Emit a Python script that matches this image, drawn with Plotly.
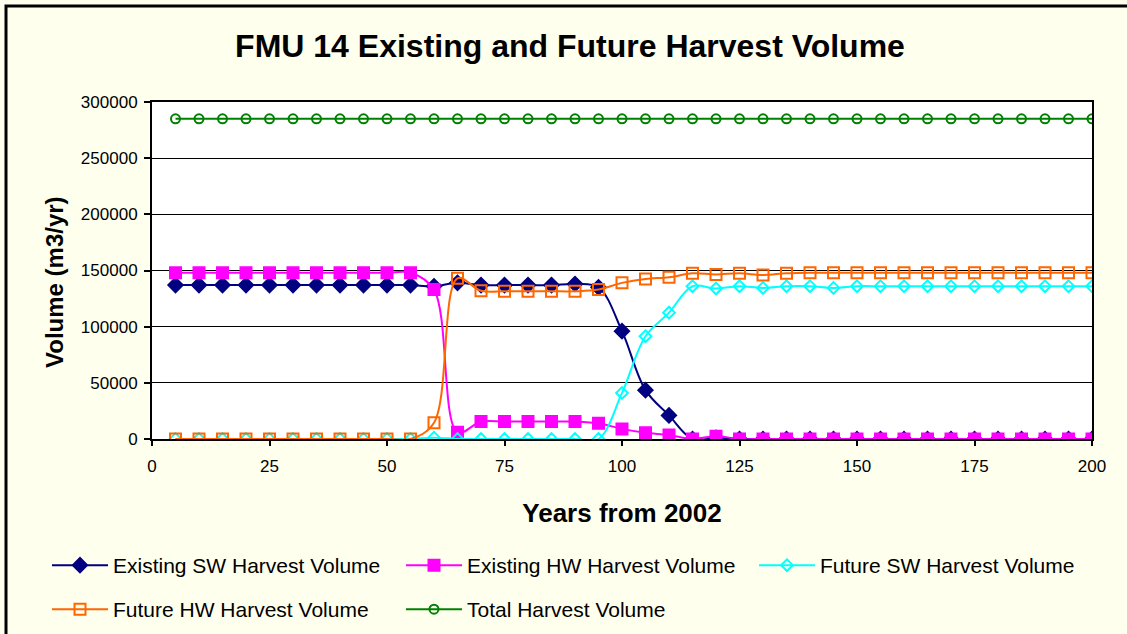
import plotly.graph_objects as go

years = [5, 10, 15, 20, 25, 30, 35, 40, 45, 50, 55, 60, 65, 70, 75, 80, 85, 90, 95, 100,
         105, 110, 115, 120, 125, 130, 135, 140, 145, 150, 155, 160, 165, 170, 175, 180, 185, 190, 195, 200]

existing_sw = [137000] * 11 + [136000, 139000, 137000, 137000, 137000, 137000, 138000, 135000,
               96000, 43500, 21000, 0, 1000] + [0] * 16
existing_hw = [148000] * 11 + [133000, 6000, 15500, 15500, 15500, 15500, 15500, 14000,
               9000, 5500, 3500, 0, 2500] + [0] * 16
future_sw = [0] * 11 + [1200, 0, 0, 0, 0, 0, 0, 0,
             41000, 91500, 112500, 136000, 134000, 136000, 134500, 136000, 136000, 134500, 136000,
             136000, 136000, 136000, 136000, 136000, 136000, 136000, 136000, 136000, 136000]
future_hw = [0] * 11 + [14500, 143000, 132000, 131500, 131500, 131500, 131500, 133000,
             139000, 142500, 144000, 147500, 146500, 147500, 146000, 147500] + [148000] * 13
total = [285000] * 40

series = [
    ("Existing SW Harvest Volume", existing_sw, "#000080", "diamond", 11, "legend"),
    ("Existing HW Harvest Volume", existing_hw, "#FF00FF", "square", 11, "legend"),
    ("Future SW Harvest Volume", future_sw, "#00FFFF", "diamond-open", 9, "legend3"),
    ("Future HW Harvest Volume", future_hw, "#FF6600", "square-open", 11, "legend2"),
    ("Total Harvest Volume", total, "#008000", "circle-open", 9, "legend2"),
]

FONT = "Arial, Liberation Sans, sans-serif"
BG = "#FFFFEE"
fig = go.Figure()
for name, vals, color, sym, size, leg in series:
    fig.add_trace(go.Scatter(
        x=years, y=vals, name=name, mode="lines+markers",
        line=dict(color=color, width=2, shape="spline"),
        marker=dict(symbol=sym, size=size, color=color, line=dict(color=color, width=2)),
        legend=leg,
    ))

W, H = 1127, 634
L, R, T, B = 152, 35, 102, 195
pw, ph = W - L - R, H - T - B

def px_x(x):
    return (x - L) / pw

def px_y(y):
    return (H - B - y) / ph

def make_legend(x_px, top_px):
    return dict(orientation="h", xref="container", yref="container",
                x=x_px / W, xanchor="left", y=1 - top_px / H, yanchor="top",
                bgcolor="rgba(0,0,0,0)", font=dict(size=21, family=FONT),
                itemwidth=56, entrywidth=283, entrywidthmode="pixels")

fig.update_layout(
    width=W, height=H,
    margin=dict(l=L, r=R, t=T, b=B, autoexpand=False),
    paper_bgcolor=BG,
    plot_bgcolor="#FFFFFF",
    font=dict(family=FONT, color="#000000", size=17),
    title=dict(text="<b>FMU 14 Existing and Future Harvest Volume</b>",
               font=dict(size=32, family=FONT, color="#000000"),
               x=570 / W, xanchor="center", xref="container",
               y=1 - 46 / H, yanchor="middle", yref="container"),
    xaxis=dict(range=[0, 200], tick0=0, dtick=25, showgrid=False, zeroline=False,
               showline=True, linecolor="#000000", linewidth=2, mirror=True,
               ticks="outside", ticklen=5, tickcolor="#000000", tickwidth=2,
               ticklabelstandoff=6,
               tickfont=dict(size=17, family=FONT),
               title=dict(text="<b>Years from 2002</b>", font=dict(size=26, family=FONT), standoff=28)),
    yaxis=dict(range=[0, 300000], tick0=0, dtick=50000, tickformat="d",
               showgrid=True, gridcolor="#000000", gridwidth=1, zeroline=False,
               showline=True, linecolor="#000000", linewidth=2, mirror=True,
               ticks="outside", ticklen=6, tickcolor="#000000", tickwidth=2,
               ticklabelstandoff=3,
               tickfont=dict(size=17, family=FONT)),
    annotations=[dict(text="<b>Volume (m3/yr)</b>", textangle=-90, showarrow=False,
                      xref="paper", yref="paper", x=px_x(54), y=px_y(282),
                      xanchor="center", yanchor="middle",
                      font=dict(size=24, family=FONT, color="#000000"))],
    legend=make_legend(47, 545),
    legend3=make_legend(754, 545),
    legend2=make_legend(47, 589),
    shapes=[dict(type="rect", xref="paper", yref="paper",
                 x0=px_x(6), x1=px_x(W + 20), y0=px_y(6), y1=px_y(H + 20),
                 line=dict(color="#000000", width=3), fillcolor="rgba(0,0,0,0)", layer="above")],
)

fig.write_html(
    "out.html",
    config={"displayModeBar": False},
    post_script="document.body.style.margin='0';document.body.style.padding='0';"
                "document.body.style.background='" + BG + "';",
)
